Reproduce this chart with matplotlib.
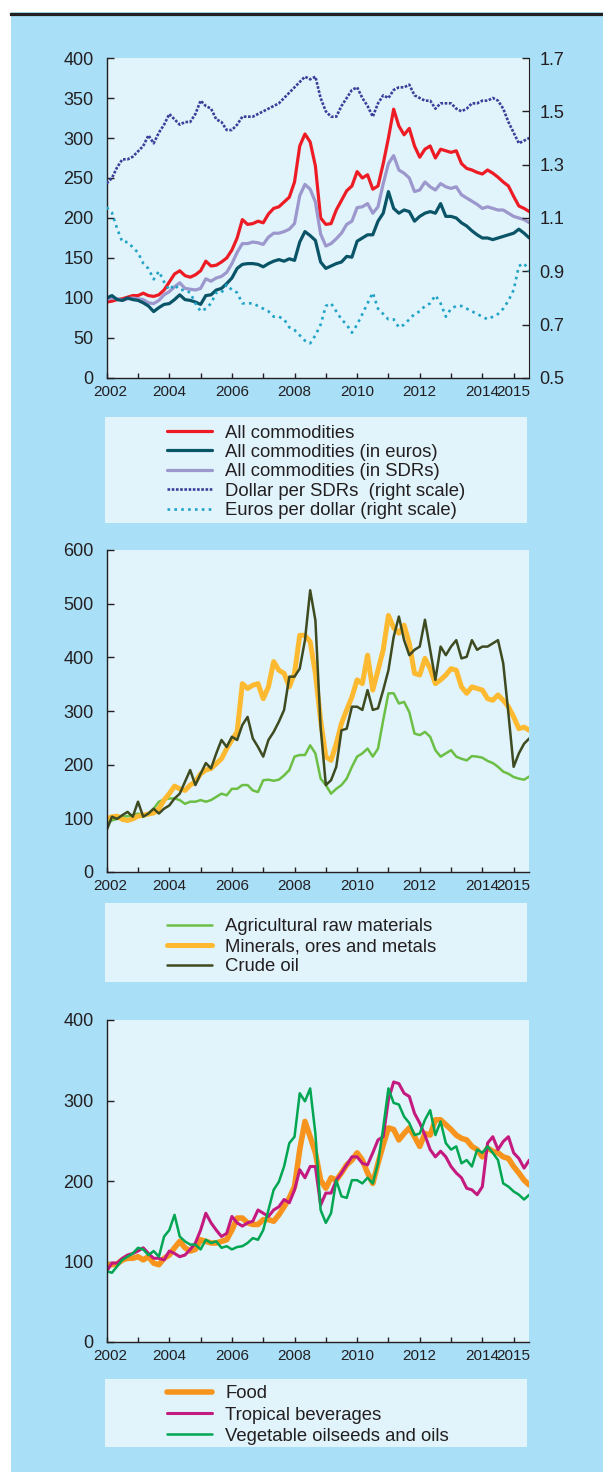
import numpy as np
import matplotlib
matplotlib.use('Agg')
import matplotlib.pyplot as plt
from matplotlib import font_manager
from matplotlib.patches import Rectangle
from matplotlib.lines import Line2D
from matplotlib.transforms import ScaledTranslation

plt.rcParams['font.family'] = ['Liberation Sans', 'DejaVu Sans']
plt.rcParams['text.color'] = '#231F20'

# bimonthly observations, Jan 2002 .. mid 2015
dates = 2002 + np.arange(82) / 6.0

# panel 1 (index, left scale)
all_usd = [95, 96, 98, 99, 101, 103, 103, 106, 103, 102, 104, 110,
           120, 130, 134, 128, 126, 129, 134, 146, 140, 141, 145, 150,
           160, 175, 198, 192, 193, 196, 194, 205, 212, 214, 220, 226,
           245, 290, 305, 295, 265, 200, 192, 193, 210, 222, 234, 240,
           258, 250, 254, 236, 240, 268, 300, 336, 315, 304, 312, 290,
           276, 286, 290, 275, 286, 284, 282, 284, 268, 262, 260, 257,
           255, 260, 256, 251, 245, 240, 227, 215, 212, 208]
all_eur = [100, 103, 98, 97, 100, 98, 97, 94, 90, 83, 88, 92,
           93, 98, 104, 98, 97, 95, 92, 103, 104, 110, 112, 118,
           125, 137, 142, 143, 143, 142, 139, 143, 146, 148, 146, 149,
           147, 170, 183, 178, 172, 145, 137, 140, 143, 145, 152, 151,
           171, 175, 179, 179, 196, 206, 233, 212, 206, 210, 208, 196,
           202, 206, 208, 206, 218, 202, 202, 200, 194, 190, 184, 179,
           175, 175, 173, 175, 177, 179, 181, 186, 181, 175]
all_sdr = [98, 100, 99, 97, 99, 100, 99, 98, 94, 93, 97, 104,
           108, 114, 119, 112, 111, 110, 112, 124, 121, 125, 127, 132,
           143, 157, 168, 168, 170, 169, 167, 176, 181, 181, 183, 186,
           193, 228, 242, 236, 220, 180, 165, 168, 174, 181, 192, 196,
           213, 214, 218, 206, 214, 243, 268, 278, 260, 256, 250, 233,
           235, 245, 239, 235, 243, 239, 237, 239, 229, 225, 221, 217,
           212, 214, 212, 210, 210, 206, 202, 200, 198, 194]
# panel 1 (right scale)
usd_per_sdr = [1.23, 1.25, 1.29, 1.32, 1.32, 1.33, 1.35, 1.37, 1.41, 1.38, 1.42, 1.45,
               1.49, 1.47, 1.45, 1.46, 1.46, 1.49, 1.54, 1.52, 1.51, 1.47, 1.46, 1.43,
               1.43, 1.45, 1.48, 1.48, 1.48, 1.49, 1.50, 1.51, 1.52, 1.53, 1.55, 1.57,
               1.59, 1.61, 1.63, 1.62, 1.63, 1.55, 1.50, 1.48, 1.48, 1.52, 1.55, 1.58,
               1.59, 1.55, 1.52, 1.48, 1.53, 1.56, 1.55, 1.58, 1.59, 1.59, 1.60, 1.56,
               1.55, 1.54, 1.54, 1.51, 1.53, 1.53, 1.53, 1.51, 1.50, 1.51, 1.53, 1.53,
               1.54, 1.54, 1.55, 1.54, 1.51, 1.46, 1.42, 1.38, 1.39, 1.40]
eur_per_usd = [1.14, 1.12, 1.06, 1.01, 1.01, 0.99, 0.97, 0.93, 0.91, 0.87, 0.90, 0.86,
               0.83, 0.85, 0.83, 0.83, 0.82, 0.78, 0.75, 0.76, 0.78, 0.82, 0.82, 0.85,
               0.83, 0.82, 0.78, 0.78, 0.78, 0.77, 0.76, 0.75, 0.73, 0.73, 0.72, 0.69,
               0.68, 0.66, 0.64, 0.63, 0.66, 0.70, 0.77, 0.78, 0.75, 0.72, 0.70, 0.67,
               0.70, 0.74, 0.78, 0.82, 0.76, 0.74, 0.72, 0.72, 0.69, 0.70, 0.72, 0.74,
               0.75, 0.77, 0.78, 0.81, 0.78, 0.73, 0.76, 0.77, 0.77, 0.76, 0.75, 0.74,
               0.73, 0.72, 0.73, 0.74, 0.76, 0.79, 0.83, 0.92, 0.93, 0.90]

# panel 2
agri = [90, 96, 99, 103, 104, 106, 109, 106, 109, 118, 131, 135,
        137, 137, 134, 127, 131, 131, 134, 131, 134, 140, 146, 143,
        155, 155, 162, 162, 152, 149, 171, 172, 170, 172, 180, 190,
        215, 218, 218, 236, 221, 174, 162, 146, 155, 162, 174, 196,
        215, 221, 230, 215, 230, 283, 333, 333, 314, 317, 298, 258,
        255, 261, 252, 227, 215, 221, 227, 215, 211, 208, 216, 215,
        213, 207, 203, 196, 187, 183, 177, 174, 172, 178]
minerals = [99, 103, 104, 98, 96, 99, 104, 106, 108, 110, 118, 134,
            146, 160, 155, 152, 162, 168, 183, 190, 193, 202, 211, 230,
            246, 261, 351, 342, 348, 351, 323, 345, 392, 376, 370, 345,
            370, 441, 441, 429, 370, 283, 215, 208, 239, 277, 302, 326,
            358, 351, 404, 339, 376, 414, 478, 455, 445, 460, 426, 370,
            367, 398, 379, 351, 358, 367, 379, 376, 345, 333, 345, 342,
            339, 323, 320, 330, 320, 308, 289, 267, 270, 264]
crude = [78, 103, 99, 106, 112, 103, 131, 103, 109, 118, 109, 118,
         124, 137, 146, 168, 190, 162, 183, 203, 193, 221, 246, 233,
         252, 246, 274, 289, 249, 233, 215, 246, 261, 280, 302, 364,
         364, 379, 432, 525, 469, 270, 162, 171, 196, 264, 267, 308,
         308, 302, 339, 302, 305, 339, 376, 438, 476, 432, 404, 414,
         420, 470, 414, 358, 420, 404, 420, 432, 398, 401, 432, 414,
         420, 420, 426, 432, 389, 295, 196, 221, 239, 249]

# panel 3
food = [96, 96, 97, 102, 104, 104, 106, 102, 106, 98, 96, 104,
        108, 117, 125, 117, 113, 115, 127, 125, 123, 123, 125, 127,
        139, 154, 154, 148, 146, 146, 152, 152, 150, 158, 168, 179,
        193, 239, 274, 255, 235, 201, 191, 204, 201, 210, 220, 226,
        235, 226, 210, 197, 222, 245, 266, 264, 251, 259, 266, 255,
        243, 259, 257, 276, 276, 270, 264, 257, 253, 251, 243, 239,
        230, 241, 237, 235, 230, 228, 218, 210, 201, 195]
beverages = [88, 98, 98, 104, 108, 110, 113, 117, 110, 104, 104, 102,
             113, 110, 106, 108, 115, 123, 139, 160, 148, 139, 131, 135,
             156, 148, 144, 148, 150, 164, 160, 156, 164, 168, 177, 173,
             189, 214, 204, 218, 218, 170, 185, 185, 201, 210, 220, 230,
             230, 222, 220, 235, 251, 255, 301, 323, 321, 309, 305, 284,
             272, 257, 239, 230, 237, 230, 218, 210, 204, 191, 189, 183,
             193, 247, 255, 239, 249, 255, 235, 228, 216, 226]
oilseeds = [88, 86, 94, 102, 106, 110, 117, 115, 108, 113, 106, 131,
            139, 158, 131, 125, 121, 121, 115, 127, 123, 125, 117, 119,
            115, 118, 119, 123, 129, 127, 139, 164, 189, 199, 218, 247,
            255, 309, 299, 315, 259, 164, 148, 160, 201, 181, 179, 201,
            201, 197, 204, 197, 222, 266, 315, 297, 295, 280, 272, 257,
            259, 276, 288, 257, 274, 247, 239, 243, 222, 226, 218, 239,
            235, 243, 235, 226, 197, 193, 187, 183, 177, 183]

year_ticks = list(range(2002, 2016))
year_labels = ['2002', '', '2004', '', '2006', '', '2008', '', '2010', '', '2012', '', '2014', '2015']

BG = '#AADFF8'
PANEL = '#E1F3FB'
DARK = '#231F20'

W, H = 603, 1472
fig = plt.figure(figsize=(W / 100, H / 100), dpi=100)
fig.patch.set_facecolor('white')
fig.patches.append(Rectangle((11 / W, 0), 1 - 11 / W, 1 - 12 / H, transform=fig.transFigure,
                             facecolor=BG, edgecolor='none', zorder=-10))
fig.lines.append(Line2D([11 / W, 1], [1 - 13.5 / H, 1 - 13.5 / H], transform=fig.transFigure,
                        color=DARK, lw=2.3, zorder=-5))

try:
    font_manager.findfont('Liberation Sans Narrow', fallback_to_default=False)
    xfont, xsize = 'Liberation Sans Narrow', 13.5
except ValueError:
    xfont, xsize = 'Liberation Sans', 11


def px_axes(left, top, right, bottom):
    return fig.add_axes([left / W, 1 - bottom / H, (right - left) / W, (bottom - top) / H])


def style_axes(ax, ylim, yticks):
    ax.set_facecolor(PANEL)
    ax.set_xlim(2002, 2015.5)
    ax.set_ylim(*ylim)
    ax.set_yticks(yticks)
    ax.set_xticks(year_ticks)
    ax.set_xticklabels(year_labels, family=xfont, fontsize=xsize)
    for s in ['top', 'right']:
        ax.spines[s].set_visible(False)
    for s in ['left', 'bottom']:
        ax.spines[s].set_color(DARK)
        ax.spines[s].set_linewidth(1.0)
    ax.tick_params(axis='y', direction='in', length=5, width=1, colors=DARK, labelsize=13, pad=9.5)
    ax.tick_params(axis='x', direction='in', length=3.5, width=1, colors=DARK, pad=5)
    # the first year label sits a little to the right of its tick
    lbl = ax.get_xticklabels()[0]
    lbl.set_transform(lbl.get_transform() + ScaledTranslation(0.04, 0, fig.dpi_scale_trans))


def legend_box(top, bottom, handles, first_row, spacing):
    lg = px_axes(105, top, 527, bottom)
    lg.set_facecolor(PANEL)
    lg.set_xticks([])
    lg.set_yticks([])
    for s in lg.spines.values():
        s.set_visible(False)
    lg.legend(handles=handles, loc='upper left', bbox_to_anchor=(167 / W, 1 - first_row / H),
              bbox_transform=fig.transFigure, frameon=False, fontsize=13.3,
              handlelength=2.45, handletextpad=0.7, labelspacing=spacing,
              borderpad=0, borderaxespad=0)


# ---- panel 1
ax1 = px_axes(106.7, 58, 529.3, 378)
style_axes(ax1, (0, 400), range(0, 401, 50))
ax1r = ax1.twinx()
ax1r.set_ylim(0.5, 1.7)
ax1r.set_yticks([0.5, 0.7, 0.9, 1.1, 1.3, 1.5, 1.7])
ax1r.set_yticklabels(['0.5', '0.7', '0.9', '1.1', '1.3', '1.5', '1.7'])
for s in ['top', 'left', 'bottom']:
    ax1r.spines[s].set_visible(False)
ax1r.spines['right'].set_color(DARK)
ax1r.tick_params(axis='y', direction='in', length=5, width=1, colors=DARK, labelsize=13, pad=7.5)

l_sdr_fx, = ax1r.plot(dates, usd_per_sdr, color='#3B3F99', lw=1.9, linestyle=(0, (1, 0.6)),
                      label='Dollar per SDRs  (right scale)')
l_eur_fx, = ax1r.plot(dates, eur_per_usd, color='#1FA3C6', lw=1.9, linestyle=(0, (1, 1.6)),
                      label='Euros per dollar (right scale)')
l_usd, = ax1.plot(dates, all_usd, color='#ED1C24', lw=2.3, solid_capstyle='round', label='All commodities')
l_sdr, = ax1.plot(dates, all_sdr, color='#9C97CC', lw=2.3, solid_capstyle='round',
                  label='All commodities (in SDRs)')
l_eur, = ax1.plot(dates, all_eur, color='#0A5468', lw=2.3, solid_capstyle='round',
                  label='All commodities (in euros)')

legend_box(417, 523, [l_usd, l_eur, l_sdr, l_sdr_fx, l_eur_fx], 424.5, 0.13)

# ---- panel 2
ax2 = px_axes(106.7, 550, 529.3, 872)
style_axes(ax2, (0, 600), range(0, 601, 100))
l_agri, = ax2.plot(dates, agri, color='#6CBF45', lw=1.8, solid_capstyle='round',
                   label='Agricultural raw materials')
l_min, = ax2.plot(dates, minerals, color='#FDBA30', lw=3.6, solid_capstyle='round',
                  label='Minerals, ores and metals')
l_oil, = ax2.plot(dates, crude, color='#3E4A1F', lw=1.8, solid_capstyle='round', label='Crude oil')
legend_box(903, 982, [l_agri, l_min, l_oil], 918.5, 0.16)

# ---- panel 3
ax3 = px_axes(106.7, 1020, 529.3, 1342)
style_axes(ax3, (0, 400), range(0, 401, 100))
l_food, = ax3.plot(dates, food, color='#F7941D', lw=4.0, solid_capstyle='round', label='Food')
l_bev, = ax3.plot(dates, beverages, color='#C41A7F', lw=2.2, solid_capstyle='round',
                  label='Tropical beverages')
l_oils, = ax3.plot(dates, oilseeds, color='#00A651', lw=1.8, solid_capstyle='round',
                   label='Vegetable oilseeds and oils')
legend_box(1379, 1447, [l_food, l_bev, l_oils], 1385.5, 0.22)

fig.savefig('out.png', dpi=100, facecolor=fig.get_facecolor())
